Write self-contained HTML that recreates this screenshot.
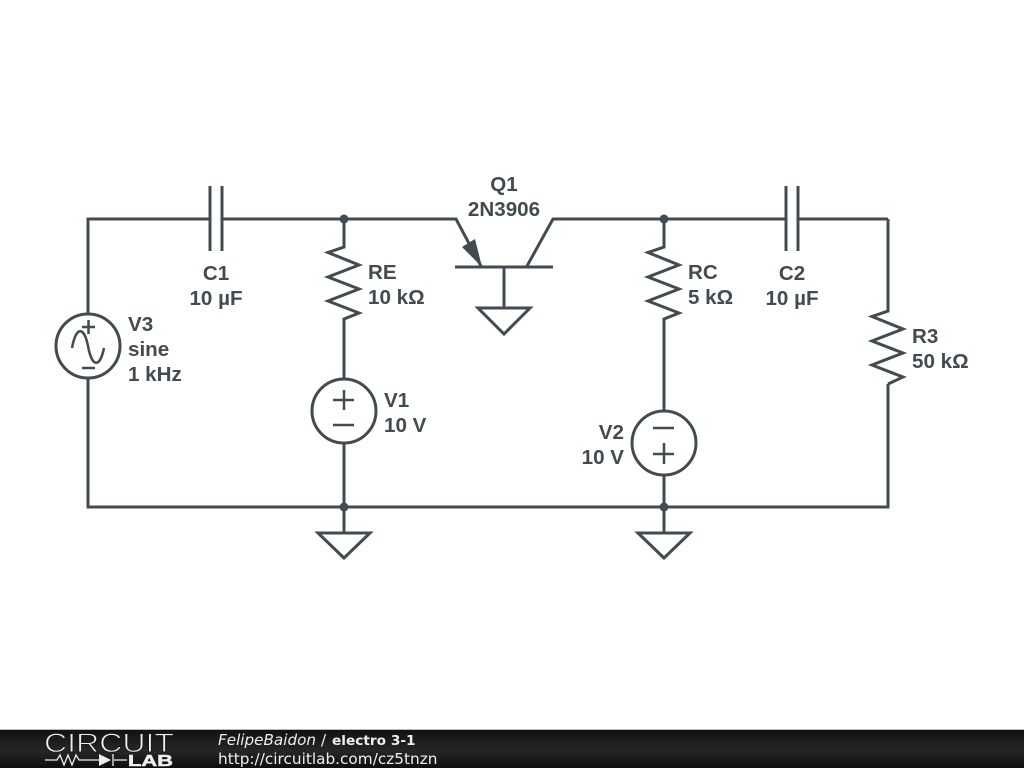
<!DOCTYPE html>
<html><head><meta charset="utf-8"><style>
html,body{margin:0;padding:0;background:#fff}
svg{display:block}
.t{font-family:"Liberation Sans",sans-serif;font-weight:bold;font-size:20.6px;fill:#414b50}
</style></head><body>
<svg width="1024" height="768" viewBox="0 0 1024 768" xmlns="http://www.w3.org/2000/svg">
<defs><linearGradient id="g" x1="0" y1="0" x2="0" y2="1"><stop offset="0" stop-color="#111"/><stop offset=".55" stop-color="#262626"/><stop offset="1" stop-color="#0e0e0e"/></linearGradient></defs>
<rect width="1024" height="768" fill="#fff"/>
<g fill="none" stroke="#414b50" stroke-width="3" stroke-linejoin="miter">
<path d="M88 313V219H210M222 219H344M344 219V247L328 252.500L359 265L328 277L359 289L328 301L359 313L344 319V379"/>
<path d="M210 186V251M222 186V251"/>
<circle cx="88" cy="346" r="32"/>
<path d="M88 379V507H888V384M888 219V311L872 316.500L903 329L872 341L903 353L872 365L903 377L888 384"/>
<path d="M82 327H95M88.500 320V334M82 368H95M72 348C76 326 84 326 88 346C92 368 100 368 104 348" stroke-width="2.500"/>
<circle cx="344" cy="411" r="32"/>
<path d="M333 400H354M344 390V410M333 425H354" stroke-width="2.500"/>
<path d="M344 443V533M318 533H370L344 558Z"/>
<path d="M344 219H456L481 266M455 267H553M527 266L553 219H664"/>
<path d="M504 267V308M478 308H530L504 334Z"/>
<path d="M664 219V247L648 252.500L679 265L648 277L679 289L648 301L679 313L664 319V411"/>
<circle cx="664" cy="443" r="32"/>
<path d="M653 428H674M653 454H674M664 443V464" stroke-width="2.500"/>
<path d="M664 475V533M638 533H690L664 558Z"/>
<path d="M664 219H786M798 219H888M786 186V251M798 186V251"/>
</g>
<path d="M462 247L475 239L482 267Z" fill="#414b50"/>
<g fill="#414b50"><circle cx="344" cy="219" r="4.500"/><circle cx="664" cy="219" r="4.500"/><circle cx="344" cy="507" r="4.500"/><circle cx="664" cy="507" r="4.500"/></g>
<text class="t" x="504" y="191" text-anchor="middle">Q1</text>
<text class="t" x="504" y="216" text-anchor="middle">2N3906</text>
<text class="t" x="216" y="280" text-anchor="middle">C1</text>
<text class="t" x="216" y="305" text-anchor="middle">10 µF</text>
<text class="t" x="792" y="280" text-anchor="middle">C2</text>
<text class="t" x="792" y="305" text-anchor="middle">10 µF</text>
<text class="t" x="368" y="279">RE</text>
<text class="t" x="368" y="304">10 kΩ</text>
<text class="t" x="688" y="279">RC</text>
<text class="t" x="688" y="304">5 kΩ</text>
<text class="t" x="912" y="343">R3</text>
<text class="t" x="912" y="368">50 kΩ</text>
<text class="t" x="128" y="331">V3</text>
<text class="t" x="128" y="356">sine</text>
<text class="t" x="128" y="381">1 kHz</text>
<text class="t" x="384" y="407">V1</text>
<text class="t" x="384" y="432">10 V</text>
<text class="t" x="624" y="439" text-anchor="end">V2</text>
<text class="t" x="624" y="464" text-anchor="end">10 V</text>
<rect y="730" width="1024" height="38" fill="url(#g)"/>
<rect y="729" width="1024" height="1" fill="#bbb"/>
<text x="44" y="752" font-family="Liberation Sans,sans-serif" font-size="26.500" fill="#eee" stroke="#1a1a1a" stroke-width=".9" textLength="130" lengthAdjust="spacingAndGlyphs">CIRCUIT</text>
<path d="M45 760H57L60 755L64 765L68 755L72 765L76 755L79 760H99M114 760H127M113 754V766" fill="none" stroke="#eee" stroke-width="1.300"/>
<path d="M99 754L111 760L99 766Z" fill="#eee"/>
<text x="128" y="766" font-family="Liberation Sans,sans-serif" font-size="15.500" font-weight="bold" fill="#eee" stroke="#eee" stroke-width=".5" textLength="45" lengthAdjust="spacingAndGlyphs">LAB</text>
<text x="218" y="745" font-family="DejaVu Sans,sans-serif" font-size="15.200" font-style="italic" fill="#eee">FelipeBaidon</text>
<text x="321" y="745" font-family="DejaVu Sans,sans-serif" font-size="15.200" fill="#eee">/</text>
<text x="332" y="745" font-family="DejaVu Sans,sans-serif" font-size="13.700" font-weight="bold" fill="#eee">electro 3-1</text>
<text x="218" y="764" font-family="DejaVu Sans,sans-serif" font-size="15.300" fill="#eee">http://circuitlab.com/cz5tnzn</text>
</svg>
</body></html>
